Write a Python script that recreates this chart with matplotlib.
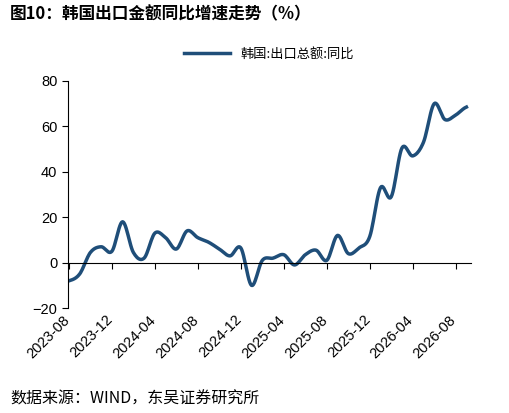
import matplotlib
matplotlib.use("Agg")
import matplotlib.pyplot as plt
import numpy as np

plt.rcParams['font.family'] = ['Noto Sans CJK SC', 'DejaVu Sans']

months = [f"{2023 + (7 + i)//12}-{(7 + i)%12 + 1:02d}" for i in range(38)]
values = [-8, -5, 4.5, 7, 5, 18, 4.5, 2, 13, 11, 6, 14, 11, 9, 6, 3, 6.5, -10, 1, 2,
          3.5, -1, 3.5, 5.5, 1, 12, 4, 6.5, 11.5, 33, 29, 50.5, 47, 53, 70, 63, 65, 68.5]
tick_labels = months[::4]

def smooth(x, y, n=12):
    x = np.asarray(x, float); y = np.asarray(y, float)
    xs, ys = [], []
    for i in range(len(x) - 1):
        p0 = y[max(i - 1, 0)]; p1 = y[i]; p2 = y[i + 1]; p3 = y[min(i + 2, len(y) - 1)]
        t = np.linspace(0, 1, n, endpoint=False)
        ys.append(0.5 * (2*p1 + (-p0 + p2)*t + (2*p0 - 5*p1 + 4*p2 - p3)*t**2 + (-p0 + 3*p1 - 3*p2 + p3)*t**3))
        xs.append(x[i] + t)
    xs.append([x[-1]]); ys.append([y[-1]])
    return np.concatenate(xs), np.concatenate(ys)

fig = plt.figure(figsize=(5.10, 4.13), dpi=100)
ax = fig.add_axes([0.133, 0.254, 0.79, 0.55])
x = np.arange(len(values))
sx, sy = smooth(x, values)
ax.plot(sx, sy, color='#1F4E79', lw=2.5, label='韩国:出口总额:同比')
ax.set_ylim(-20, 80)
ax.set_xlim(-0.1, len(values) - 0.6)
ax.set_yticks(range(-20, 81, 20))
ax.spines[['top', 'right']].set_visible(False)
ax.spines['bottom'].set_position(('data', 0))
ax.set_xticks(x[::4])
ax.set_xticklabels([])
for xi, lab in zip(x[::4], tick_labels):
    ax.text(xi + 0.3, -22, lab, rotation=45, ha='right', va='top', fontsize=10.5,
            family=['Liberation Sans', 'DejaVu Sans'])
ax.tick_params(axis='both', direction='out', length=4)
ax.tick_params(axis='y', labelsize=10.5)
for t in ax.get_yticklabels():
    t.set_family(['Liberation Sans', 'DejaVu Sans'])
ax.legend(loc='upper center', bbox_to_anchor=(0.5, 1.2), frameon=False, fontsize=9.5, handlelength=3.5)
fig.text(0.02, 0.965, '图10：韩国出口金额同比增速走势（%）', fontsize=12, fontweight='bold', va='center')
fig.text(0.02, 0.035, '数据来源：WIND，东吴证券研究所', fontsize=11.5, va='center')
fig.savefig('out.png', dpi=100)
